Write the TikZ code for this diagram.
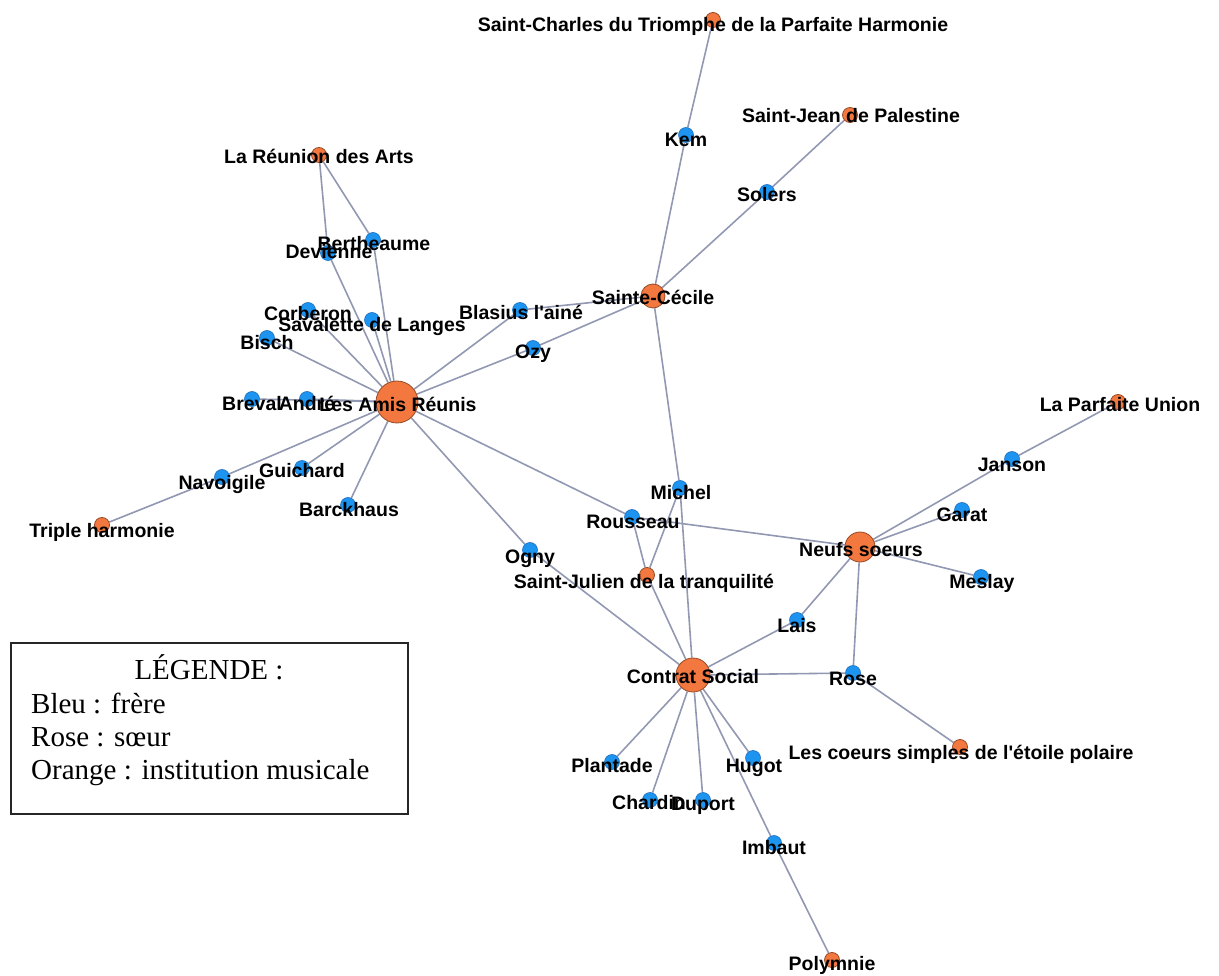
\documentclass[tikz,border=0pt]{standalone}
\usepackage{fontspec}
\setmainfont{Liberation Serif}
\newfontfamily\labfont{Liberation Sans}
\usetikzlibrary{backgrounds}
\definecolor{bluefill}{RGB}{28,148,240}
\definecolor{blueline}{RGB}{30,110,190}
\definecolor{orfill}{RGB}{242,120,64}
\definecolor{orline}{RGB}{150,75,40}
\definecolor{edgecol}{RGB}{146,152,178}
\begin{document}
\begin{tikzpicture}[x=1pt,y=-1pt,
  bdot/.style={circle,fill=bluefill,draw=blueline,line width=0.6pt,minimum size=15pt,inner sep=0pt},
  odot/.style={circle,fill=orfill,draw=orline,line width=0.8pt,minimum size=15pt,inner sep=0pt},
  lab/.style={font=\labfont\bfseries\fontsize{19.5}{22}\selectfont,inner sep=0pt,anchor=base,text=black},
  edge/.style={draw=edgecol,line width=1.6pt},
  legtxt/.style={font=\fontsize{29}{33}\selectfont,inner sep=0pt,anchor=base west}]
\useasboundingbox (0,0) rectangle (1219,976);

% ---- dots
\node[odot,minimum size=42pt] (AR) at (397,402) {};
\node[odot] (RA) at (319,155) {};
\node[bdot] (Ber) at (373,240) {};
\node[bdot] (Dev) at (328,253) {};
\node[bdot] (Cor) at (308,310) {};
\node[bdot] (Sav) at (372,320) {};
\node[bdot] (Bis) at (267,338) {};
\node[bdot] (Bre) at (252,399) {};
\node[bdot] (And) at (307,399) {};
\node[bdot] (Nav) at (222,477) {};
\node[bdot] (Gui) at (302,468) {};
\node[bdot] (Bar) at (348,505) {};
\node[odot] (TH) at (102,525) {};
\node[bdot] (Bla) at (520,310) {};
\node[bdot] (Ozy) at (533,348) {};
\node[odot,minimum size=24pt] (SC) at (653,296) {};
\node[bdot] (Kem) at (686,135) {};
\node[odot] (SCh) at (713,20) {};
\node[bdot] (Sol) at (767,192) {};
\node[odot] (SJP) at (850,115) {};
\node[bdot] (Mic) at (680,488) {};
\node[bdot] (Rou) at (632,517) {};
\node[bdot] (Ogn) at (530,550) {};
\node[odot] (SJu) at (647,575) {};
\node[odot,minimum size=34pt] (CS) at (693,675) {};
\node[odot,minimum size=30pt] (NS) at (860,547) {};
\node[odot] (LPU) at (1118,402) {};
\node[bdot] (Jan) at (1012,459) {};
\node[bdot] (Gar) at (962,510) {};
\node[bdot] (Mes) at (981,577) {};
\node[bdot] (Lai) at (797,620) {};
\node[bdot] (Ros) at (853,673) {};
\node[odot] (LCS) at (960,747) {};
\node[bdot] (Pla) at (612,762) {};
\node[bdot] (Cha) at (650,800) {};
\node[bdot] (Dup) at (703,800) {};
\node[bdot] (Hug) at (753,758) {};
\node[bdot] (Imb) at (774,843) {};
\node[odot] (Pol) at (832,960) {};

% ---- edges
\begin{scope}[on background layer]
\foreach \a/\b in {RA/Dev,RA/Ber,Dev/AR,Ber/AR,Cor/AR,Sav/AR,Bis/AR,Bre/AR,And/AR,
  Nav/AR,Nav/TH,Gui/AR,Bar/AR,Bla/AR,Ozy/AR,Bla/SC,Ozy/SC,AR/Rou,AR/Ogn,Ogn/CS,
  SC/Kem,Kem/SCh,SC/Sol,Sol/SJP,SC/Mic,Mic/CS,Mic/SJu,Rou/SJu,SJu/CS,Rou/NS,
  NS/Jan,Jan/LPU,NS/Gar,NS/Mes,NS/Lai,Lai/CS,NS/Ros,Ros/CS,Ros/LCS,
  CS/Pla,CS/Cha,CS/Dup,CS/Hug,CS/Imb,Imb/Pol}
  \draw[edge] (\a) -- (\b);
\end{scope}

% ---- labels
\node[lab] (AR-l) at ([shift={(1,9)}]AR.center) {Les Amis Réunis};
\node[lab] (RA-l) at ([shift={(0,9)}]RA.center) {La Réunion des Arts};
\node[lab] (Dev-l) at ([shift={(1,6)}]Dev.center) {Devienne};
\node[lab] (Ber-l) at ([shift={(1,11)}]Ber.center) {Bertheaume};
\node[lab] (Sav-l) at ([shift={(0,12)}]Sav.center) {Savalette de Langes};
\node[lab] (Cor-l) at ([shift={(0,11)}]Cor.center) {Corberon};
\node[lab] (Bis-l) at ([shift={(0,12)}]Bis.center) {Bisch};
\node[lab] (Bre-l) at ([shift={(0,11)}]Bre.center) {Breval};
\node[lab] (And-l) at ([shift={(0,11)}]And.center) {André};
\node[lab] (Nav-l) at ([shift={(0,12)}]Nav.center) {Navoigile};
\node[lab] (Gui-l) at ([shift={(0,9)}]Gui.center) {Guichard};
\node[lab] (Bar-l) at ([shift={(1,11)}]Bar.center) {Barckhaus};
\node[lab] (TH-l) at ([shift={(0,12)}]TH.center) {Triple harmonie};
\node[lab] (Bla-l) at ([shift={(1,10)}]Bla.center) {Blasius l\textquotesingle ainé};
\node[lab] (Ozy-l) at ([shift={(0,11)}]Ozy.center) {Ozy};
\node[lab] (SC-l) at ([shift={(0,9)}]SC.center) {Sainte-Cécile};
\node[lab] (Kem-l) at ([shift={(0,12)}]Kem.center) {Kem};
\node[lab] (SCh-l) at ([shift={(0,12)}]SCh.center) {Saint-Charles du Triomphe de la Parfaite Harmonie};
\node[lab] (Sol-l) at ([shift={(0,10)}]Sol.center) {Solers};
\node[lab] (SJP-l) at ([shift={(1,8)}]SJP.center) {Saint-Jean de Palestine};
\node[lab] (Mic-l) at ([shift={(1,11)}]Mic.center) {Michel};
\node[lab] (Rou-l) at ([shift={(1,11)}]Rou.center) {Rousseau};
\node[lab] (Ogn-l) at ([shift={(0,13)}]Ogn.center) {Ogny};
\node[lab] (SJu-l) at ([shift={(-3,13)}]SJu.center) {Saint-Julien de la tranquilité};
\node[lab] (CS-l) at ([shift={(0,8)}]CS.center) {Contrat Social};
\node[lab] (NS-l) at ([shift={(1,9)}]NS.center) {Neufs soeurs};
\node[lab] (LPU-l) at ([shift={(2,10)}]LPU.center) {La Parfaite Union};
\node[lab] (Jan-l) at ([shift={(0,12)}]Jan.center) {Janson};
\node[lab] (Gar-l) at ([shift={(0,11)}]Gar.center) {Garat};
\node[lab] (Mes-l) at ([shift={(1,11)}]Mes.center) {Meslay};
\node[lab] (Lai-l) at ([shift={(0,12)}]Lai.center) {Lais};
\node[lab] (Ros-l) at ([shift={(0,12)}]Ros.center) {Rose};
\node[lab] (LCS-l) at ([shift={(1,12)}]LCS.center) {Les coeurs simples de l\textquotesingle étoile polaire};
\node[lab] (Pla-l) at ([shift={(0,10)}]Pla.center) {Plantade};
\node[lab] (Cha-l) at ([shift={(-1,9)}]Cha.center) {Chardin};
\node[lab] (Dup-l) at ([shift={(0,10)}]Dup.center) {Duport};
\node[lab] (Hug-l) at ([shift={(1,14)}]Hug.center) {Hugot};
\node[lab] (Imb-l) at ([shift={(0,11)}]Imb.center) {Imbaut};
\node[lab] (Pol-l) at ([shift={(0,10)}]Pol.center) {Polymnie};

% ---- legend
\node[draw=black!85,line width=1.5pt,minimum width=397pt,minimum height=171pt,inner sep=0pt,anchor=north west] (legend) at (10,642) {};
\node[legtxt,anchor=base] (leg-t) at (209,679) {LÉGENDE :};
\node[legtxt] (leg-1) at (31,713) {Bleu : frère};
\node[legtxt] (leg-2) at (31,746) {Rose : sœur};
\node[legtxt] (leg-3) at (31,779) {Orange : institution musicale};
\end{tikzpicture}
\end{document}
